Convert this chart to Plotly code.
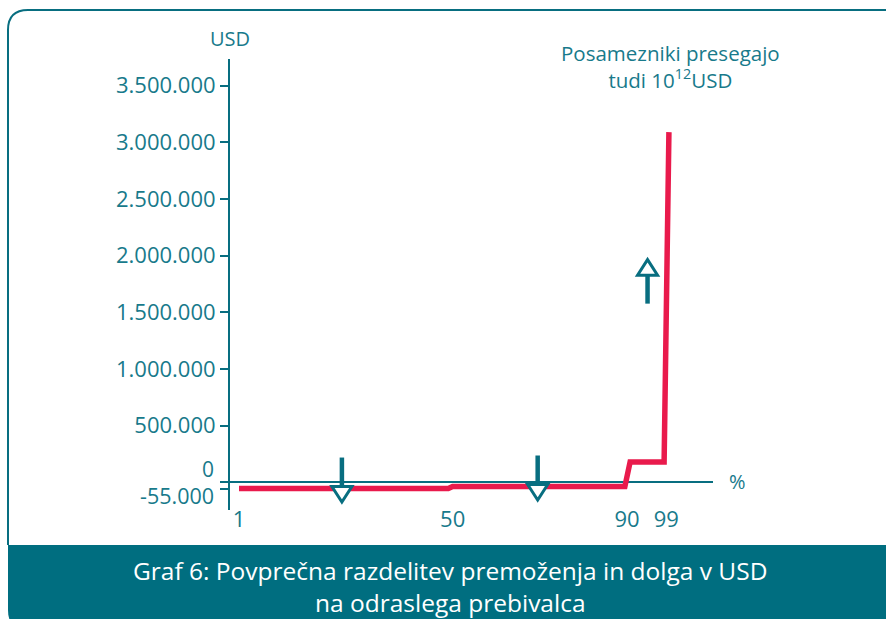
import plotly.graph_objects as go

# ---- data ----
percentiles = [1, 49, 50, 89.5, 90.7, 98.5, 99.6]
wealth_usd = [-55000, -55000, -37000, -37000, 180000, 180000, 3090000]

x_tick_vals = [1, 50, 90, 99]
x_tick_text = ["1", "50", "90", "99"]
y_tick_vals = [-55000, 0, 500000, 1000000, 1500000, 2000000, 2500000, 3000000, 3500000]
y_tick_text = ["", "", "500.000", "1.000.000", "1.500.000", "2.000.000",
               "2.500.000", "3.000.000", "3.500.000"]
low_tick_labels = ["0", "-55.000"]

# arrow markers: (percentile, anchor value)
down_arrow_pct = [24.6, 69.5]
down_arrow_val = [-55000, -37000]
up_arrow_pct = [94.7]
up_arrow_val = [2000000]

# ---- layout constants ----
W, H = 886, 619
L, R, T, B = 230, 173, 59, 109
PW, PH = W - L - R, H - T - B
BOTTOM = H - B

TEAL = "#086e80"
TEXT = "#187a8b"
RED = "#e91a4c"
FONT = "Open Sans"


def pxx(x):
    return (x - L) / PW


def pxy(y):
    return (BOTTOM - y) / PH


fig = go.Figure()
fig.add_trace(go.Scatter(
    x=percentiles, y=wealth_usd, mode="lines",
    line=dict(color=RED, width=5.5), hoverinfo="skip", showlegend=False,
))

shapes = []
# outer rounded frame
shapes.append(dict(
    type="path", xref="paper", yref="paper", layer="below",
    path=(f"M {pxx(8)},{pxy(545)} L {pxx(8)},{pxy(30)} "
          f"Q {pxx(8)},{pxy(10)} {pxx(28)},{pxy(10)} L {pxx(900)},{pxy(10)}"),
    line=dict(color=TEAL, width=2),
))
# caption box
shapes.append(dict(
    type="path", xref="paper", yref="paper", layer="below",
    path=(f"M {pxx(8)},{pxy(545)} L {pxx(900)},{pxy(545)} L {pxx(900)},{pxy(630)} "
          f"L {pxx(28)},{pxy(630)} Q {pxx(8)},{pxy(630)} {pxx(8)},{pxy(610)} Z"),
    fillcolor="#006e80", line=dict(width=0),
))

# arrows (pixel-sized, anchored at data coordinates)
for xa, ya in zip(down_arrow_pct, down_arrow_val):
    shapes.append(dict(
        type="line", xref="x", yref="y", xsizemode="pixel", ysizemode="pixel",
        xanchor=xa, yanchor=ya, x0=0, x1=0, y0=31, y1=0,
        line=dict(color=TEAL, width=4.5),
    ))
    shapes.append(dict(
        type="path", xref="x", yref="y", xsizemode="pixel", ysizemode="pixel",
        xanchor=xa, yanchor=ya, path="M -10,2 L 10,2 L 0,-13.5 Z",
        fillcolor="white", line=dict(color=TEAL, width=3),
    ))
for xa, ya in zip(up_arrow_pct, up_arrow_val):
    shapes.append(dict(
        type="line", xref="x", yref="y", xsizemode="pixel", ysizemode="pixel",
        xanchor=xa, yanchor=ya, x0=0, x1=0, y0=-48, y1=-16,
        line=dict(color=TEAL, width=4.5),
    ))
    shapes.append(dict(
        type="path", xref="x", yref="y", xsizemode="pixel", ysizemode="pixel",
        xanchor=xa, yanchor=ya, path="M -10,-19.5 L 10,-19.5 L 0,-4 Z",
        fillcolor="white", line=dict(color=TEAL, width=3),
    ))

annotations = [
    dict(text="USD", xref="paper", yref="paper", x=pxx(230), y=pxy(38.5),
         xanchor="center", yanchor="middle", showarrow=False,
         font=dict(family=FONT, size=20, color=TEXT)),
    dict(text=low_tick_labels[0], xref="paper", yref="paper", x=pxx(216), y=pxy(469),
         xanchor="right", yanchor="middle", showarrow=False,
         font=dict(family=FONT, size=21, color=TEXT)),
    dict(text=low_tick_labels[1], xref="paper", yref="paper", x=pxx(216), y=pxy(495),
         xanchor="right", yanchor="middle", showarrow=False,
         font=dict(family=FONT, size=21.5, color=TEXT)),
    dict(text="%", xref="paper", yref="paper", x=pxx(737), y=pxy(481),
         xanchor="center", yanchor="middle", showarrow=False,
         font=dict(family=FONT, size=20, color=TEXT)),
    dict(text="Posamezniki presegajo<br>tudi 10<sup>12</sup>USD", xref="paper", yref="paper",
         x=pxx(670), y=pxy(66), xanchor="center", yanchor="middle", showarrow=False,
         align="center", font=dict(family=FONT, size=20.5, color=TEXT)),
    dict(text="Graf 6: Povprečna razdelitev premoženja in dolga v USD<br>na odraslega prebivalca",
         xref="paper", yref="paper", x=pxx(450), y=pxy(586), xanchor="center",
         yanchor="middle", showarrow=False, align="center",
         font=dict(family=FONT, size=24.5, color="white")),
]

fig.update_layout(
    width=W, height=H, margin=dict(l=L, r=R, t=T, b=B, autoexpand=False),
    paper_bgcolor="white", plot_bgcolor="white",
    font=dict(family=FONT, color=TEXT),
    shapes=shapes, annotations=annotations, showlegend=False,
    xaxis=dict(range=[-1.064, 109.71], tickvals=x_tick_vals, ticktext=x_tick_text,
               showgrid=False, zeroline=False, showline=False, ticks="",
               tickfont=dict(family=FONT, size=22, color=TEXT),
               ticklabelstandoff=-6, fixedrange=True),
    yaxis=dict(range=[-244400, 3735100], tickvals=y_tick_vals, ticktext=y_tick_text,
               showgrid=False, zeroline=True, zerolinecolor=TEAL, zerolinewidth=2,
               showline=True, linecolor=TEAL, linewidth=2,
               ticks="outside", ticklen=8, tickwidth=1.5, tickcolor=TEAL,
               tickfont=dict(family=FONT, size=22, color=TEXT), fixedrange=True),
)

fig.write_html("out.html", config={"displayModeBar": False},
               post_script="document.body.style.margin='0px';document.body.style.overflow='hidden';")
